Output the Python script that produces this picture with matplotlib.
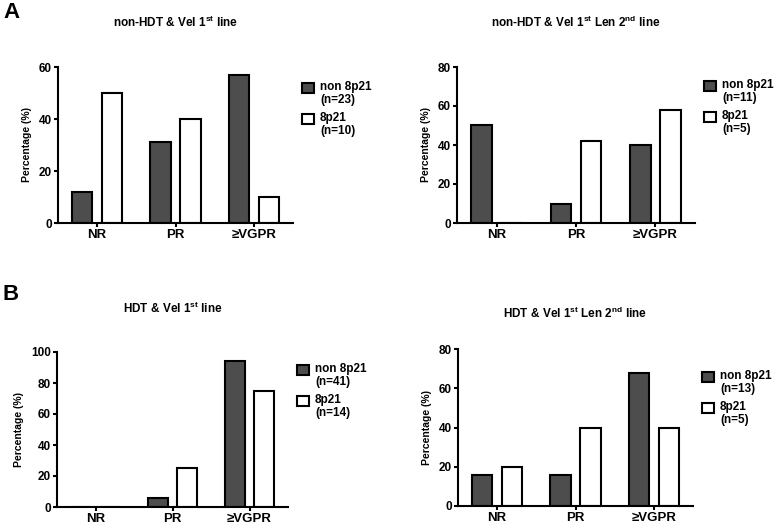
import numpy as np
import matplotlib
matplotlib.use("Agg")
import matplotlib.pyplot as plt
from matplotlib.patches import Rectangle

plt.rcParams['font.family'] = ['Liberation Sans', 'DejaVu Sans']
plt.rcParams['font.weight'] = 'bold'
plt.rcParams['mathtext.fontset'] = 'custom'
plt.rcParams['mathtext.rm'] = 'Liberation Sans:bold'
plt.rcParams['mathtext.bf'] = 'Liberation Sans:bold'

# data
categories = ["NR", "PR", "\u2265VGPR"]
series_names = ["non 8p21", "8p21"]

titles = [
    "non-HDT & Vel 1$^{\\rm st}$ line",
    "non-HDT & Vel 1$^{\\rm st}$ Len 2$^{\\rm nd}$ line",
    "HDT & Vel 1$^{\\rm st}$ line",
    "HDT & Vel 1$^{\\rm st}$ Len 2$^{\\rm nd}$ line",
]
non8p21 = [[12, 31, 57], [50, 10, 40], [0, 6, 94], [16, 16, 68]]
yes8p21 = [[50, 40, 10], [0, 42, 58], [0, 25, 75], [20, 40, 40]]
n_non = [23, 11, 41, 13]
n_yes = [10, 5, 14, 5]
ymax = [60, 80, 100, 80]

W, H = 774, 524
# axes boxes in pixels: left, right, top, bottom
boxes = [(58, 293, 67, 223), (457, 695, 67, 223),
         (57, 288, 352, 507), (458, 693, 349, 506)]
title_y = [22, 22, 308, 313]
legend_y = [88, 86, 370, 377]

fig = plt.figure(figsize=(W / 100, H / 100), dpi=100)


def fx(px):
    return px / W


def fy(py):
    return 1 - py / H


for i in range(4):
    l, r, t, b = boxes[i]
    ax = fig.add_axes([fx(l), fy(b), fx(r - l), (b - t) / H])
    x = np.arange(len(categories))
    ax.bar(x - 0.19, non8p21[i], 0.26, color='#4d4d4d', edgecolor='black', linewidth=1.5)
    ax.bar(x + 0.19, yes8p21[i], 0.26, color='white', edgecolor='black', linewidth=1.5)
    ax.set_xlim(-0.5, 2.5)
    ax.set_ylim(0, ymax[i])
    ax.set_yticks(np.arange(0, ymax[i] + 1, 20))
    ax.set_xticks(x)
    ax.set_xticklabels(categories, fontsize=9.5, fontweight='bold')
    ax.tick_params(axis='y', length=3, width=1.5, labelsize=8.5, pad=1.5)
    ax.tick_params(axis='x', length=3, width=1.5, pad=1.5)
    for lab in ax.get_yticklabels():
        lab.set_fontweight('bold')
    for s in ['top', 'right']:
        ax.spines[s].set_visible(False)
    for s in ['left', 'bottom']:
        ax.spines[s].set_linewidth(1.5)
    ax.set_ylabel("Percentage (%)", fontsize=7.5, fontweight='bold', labelpad=5)

    fig.text(fx((l + r) / 2), fy(title_y[i]), titles[i], fontsize=8.5,
             fontweight='bold', ha='center', va='center')

    # legend drawn by hand so the box lines up with the first text line
    labels = [f"{series_names[0]}\n(n={n_non[i]})", f"{series_names[1]}\n(n={n_yes[i]})"]
    colors = ['#4d4d4d', 'white']
    for k in range(2):
        y0 = legend_y[i] + k * 31
        fig.patches.append(Rectangle((fx(r + 9), fy(y0 + 5)), fx(12), 10 / H,
                                     transform=fig.transFigure, facecolor=colors[k],
                                     edgecolor='black', linewidth=1.5))
        fig.text(fx(r + 27), fy(y0 - 7), labels[k], fontsize=8.5, fontweight='bold',
                 ha='left', va='top', linespacing=1.15)

fig.text(fx(3), fy(13), "A", fontsize=16, fontweight='bold', ha='left', va='center')
fig.text(fx(3), fy(295), "B", fontsize=16, fontweight='bold', ha='left', va='center')

fig.savefig("out.png", dpi=100, facecolor='white')
